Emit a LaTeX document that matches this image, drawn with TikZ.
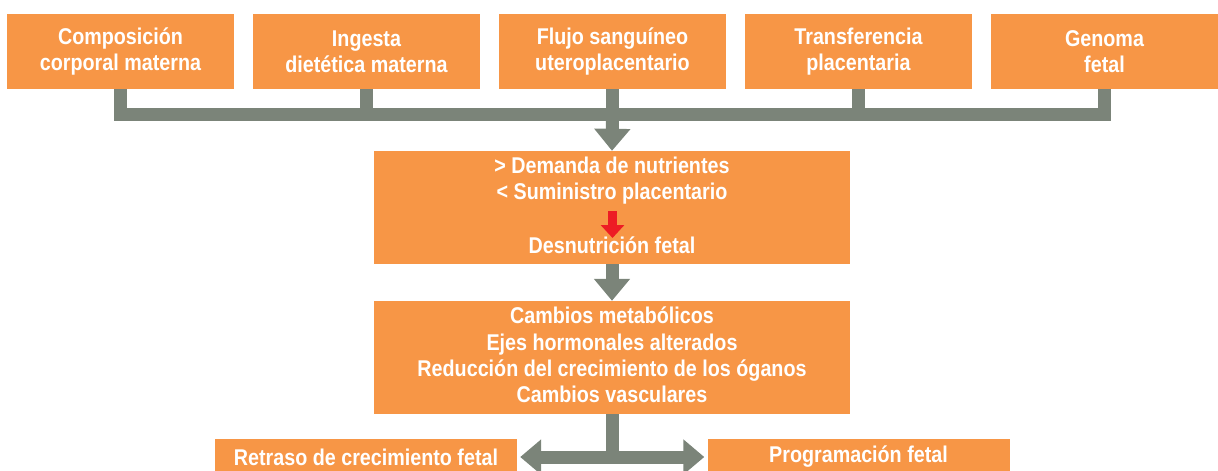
\documentclass[tikz,border=0pt]{standalone}
\usepackage{fontspec}
\setmainfont{Liberation Sans}[FakeStretch=0.865]
\usetikzlibrary{arrows.meta}
\definecolor{boxor}{HTML}{F79646}
\definecolor{pipegray}{HTML}{7B8479}
\definecolor{hotred}{HTML}{ED1C24}
\tikzset{
  every node/.style={font=\bfseries\fontsize{22.8}{26.3}\selectfont,text=white},
  obox/.style={fill=boxor,inner sep=0pt,align=center},
  topbox/.style={obox,minimum width=227pt,minimum height=75pt},
  midbox/.style={obox,minimum width=476pt,minimum height=113pt},
  endbox/.style={obox,minimum width=302pt,minimum height=36pt},
  txt/.style={align=center,inner sep=0pt},
  pipe/.style={draw=pipegray,line width=13pt},
  down/.style={pipe,-{Triangle[width=35pt,length=22pt]}},
  both/.style={pipe,{Triangle[width=34pt,length=21pt]}-{Triangle[width=34pt,length=21pt]},shorten <=3pt,shorten >=3pt},
  redarr/.style={draw=hotred,line width=9pt,-{Triangle[width=23pt,length=13pt]}},
}

\begin{document}
\begin{tikzpicture}[x=1pt,y=-1pt]
\useasboundingbox (0,0) rectangle (1218,471);

% factores
\node[topbox] (t1) at (120.5,51.5) {Composición\\corporal materna};
\node[topbox] (t2) at (366.5,51.5) {Ingesta\\dietética materna};
\node[topbox] (t3) at (612.5,51.5) {Flujo sanguíneo\\uteroplacentario};
\node[topbox] (t4) at (858.5,51.5) {Transferencia\\placentaria};
\node[topbox] (t5) at (1104.5,51.5) {Genoma\\fetal};

\coordinate (bar) at (612.5,114.5);
\draw[pipe] (t1.south) |- (bar) -| (t5.south);
\draw[pipe] (t2.south) -- (t2.south |- bar);
\draw[pipe] (t3.south) -- (bar);
\draw[pipe] (t4.south) -- (t4.south |- bar);

% desnutricion
\node[midbox] (m1) at (612,207.5) {};
\node[txt] (d1) at (612,180.5) {> Demanda de nutrientes\\< Suministro placentario};
\node[txt] (d2) at (612,245) {Desnutrición fetal};
\coordinate (r0) at (612.5,211);
\coordinate (r1) at (612.5,238);
\draw[redarr] (r0) -- (r1);
\draw[down] (bar) -- (m1.north);

% efectos
\node[midbox] (m2) at (612,357.5) {};
\node[txt] (e1) at (612,355) {Cambios metabólicos\\Ejes hormonales alterados\\Reducción del crecimiento de los óganos\\Cambios vasculares};
\draw[down] (m1.south) -- (m2.north);

% resultados
\node[endbox] (b1) at (366,457) {Retraso de crecimiento fetal};
\node[endbox] (b2) at (858.5,457) {Programación fetal};
\draw[pipe] (m2.south) -- (m2.south |- b1.east);
\draw[both] (b1.east) -- (b2.west);

\end{tikzpicture}
\end{document}
